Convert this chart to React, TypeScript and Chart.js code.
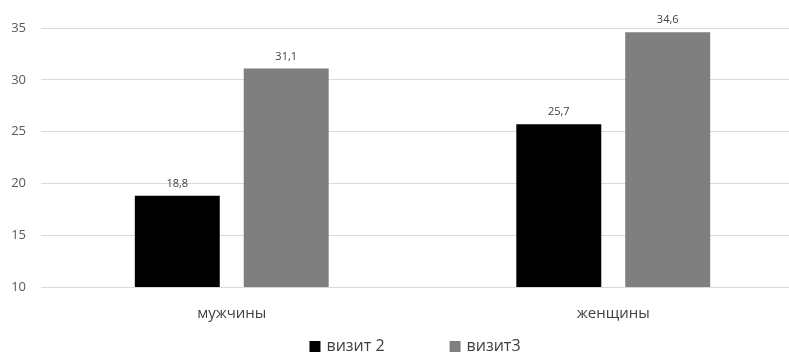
import React, { useEffect, useRef } from "react";
import { Chart, registerables } from "chart.js";

Chart.register(...registerables);

const categories = ["мужчины", "женщины"];
const seriesNames = ["визит 2", "визит3"];
const visit2 = [18.8, 25.7];
const visit3 = [31.1, 34.6];
const seriesColors = ["#000000", "#7f7f7f"];
const yTicks = [10, 15, 20, 25, 30, 35];

const FONT = "'Open Sans', 'DejaVu Sans', sans-serif";
const CANVAS_W = 810;
const CANVAS_H = 353;

const fmt = (v: number) => v.toFixed(1).replace(".", ",");

// Value labels above each bar, with a decimal comma
const valueLabels = {
  id: "valueLabels",
  afterDatasetsDraw(chart: any) {
    const ctx = chart.ctx;
    ctx.save();
    ctx.font = `11px ${FONT}`;
    ctx.fillStyle = "#404040";
    ctx.textAlign = "center";
    ctx.textBaseline = "middle";
    chart.data.datasets.forEach((ds: any, di: number) => {
      const meta = chart.getDatasetMeta(di);
      meta.data.forEach((bar: any, i: number) => {
        ctx.fillText(fmt(ds.data[i]), bar.x, bar.y - 12);
      });
    });
    ctx.restore();
  },
};

// Legend row along the bottom edge with wide spacing between items
const bottomLegend = {
  id: "bottomLegend",
  afterDraw(chart: any) {
    const ctx = chart.ctx;
    const box = 11;
    const textGap = 6;
    const itemGap = 65;
    const centerX = 415;
    const boxTop = 341;
    ctx.save();
    ctx.font = `16px ${FONT}`;
    const widths = chart.data.datasets.map(
      (ds: any) => box + textGap + ctx.measureText(ds.label).width
    );
    const total =
      widths.reduce((a: number, b: number) => a + b, 0) +
      itemGap * (widths.length - 1);
    let x = centerX - total / 2;
    chart.data.datasets.forEach((ds: any, i: number) => {
      ctx.fillStyle = ds.backgroundColor;
      ctx.fillRect(x, boxTop, box, box);
      ctx.fillStyle = "#404040";
      ctx.textAlign = "left";
      ctx.textBaseline = "middle";
      ctx.fillText(ds.label, x + box + textGap, boxTop + box / 2);
      x += widths[i] + itemGap;
    });
    ctx.restore();
  },
};

export default function App() {
  const ref = useRef<HTMLCanvasElement | null>(null);

  useEffect(() => {
    if (!ref.current) return;
    const chart = new Chart(ref.current, {
      type: "bar",
      data: {
        labels: categories,
        datasets: [
          {
            label: seriesNames[0],
            data: visit2,
            backgroundColor: seriesColors[0],
            categoryPercentage: 0.571,
            barPercentage: 0.78,
          },
          {
            label: seriesNames[1],
            data: visit3,
            backgroundColor: seriesColors[1],
            categoryPercentage: 0.571,
            barPercentage: 0.78,
          },
        ],
      },
      options: {
        responsive: false,
        animation: false,
        layout: { padding: { top: 28, right: 6, left: 0, bottom: 0 } },
        plugins: {
          legend: { display: false },
          tooltip: { enabled: false },
        },
        scales: {
          x: {
            grid: { display: false },
            border: { display: false },
            ticks: {
              color: "#404040",
              font: { family: FONT, size: 15 },
              padding: 10,
            },
            afterFit: (s: any) => {
              s.height = 66;
            },
          },
          y: {
            min: 10,
            max: 35,
            afterBuildTicks: (s: any) => {
              s.ticks = yTicks.map((v) => ({ value: v }));
            },
            grid: { color: "#d9d9d9", lineWidth: 1, drawTicks: false },
            border: { display: false },
            ticks: {
              color: "#595959",
              font: { family: FONT, size: 13 },
              padding: 15,
            },
            afterFit: (s: any) => {
              s.width = 41;
            },
          },
        },
      },
      plugins: [valueLabels, bottomLegend],
    });
    return () => chart.destroy();
  }, []);

  return (
    <div
      style={{
        position: "fixed",
        left: 0,
        top: 0,
        width: 789,
        height: 353,
        overflow: "hidden",
        background: "#ffffff",
      }}
    >
      <canvas
        ref={ref}
        width={CANVAS_W}
        height={CANVAS_H}
        style={{ display: "block", width: CANVAS_W, height: CANVAS_H }}
      />
    </div>
  );
}
